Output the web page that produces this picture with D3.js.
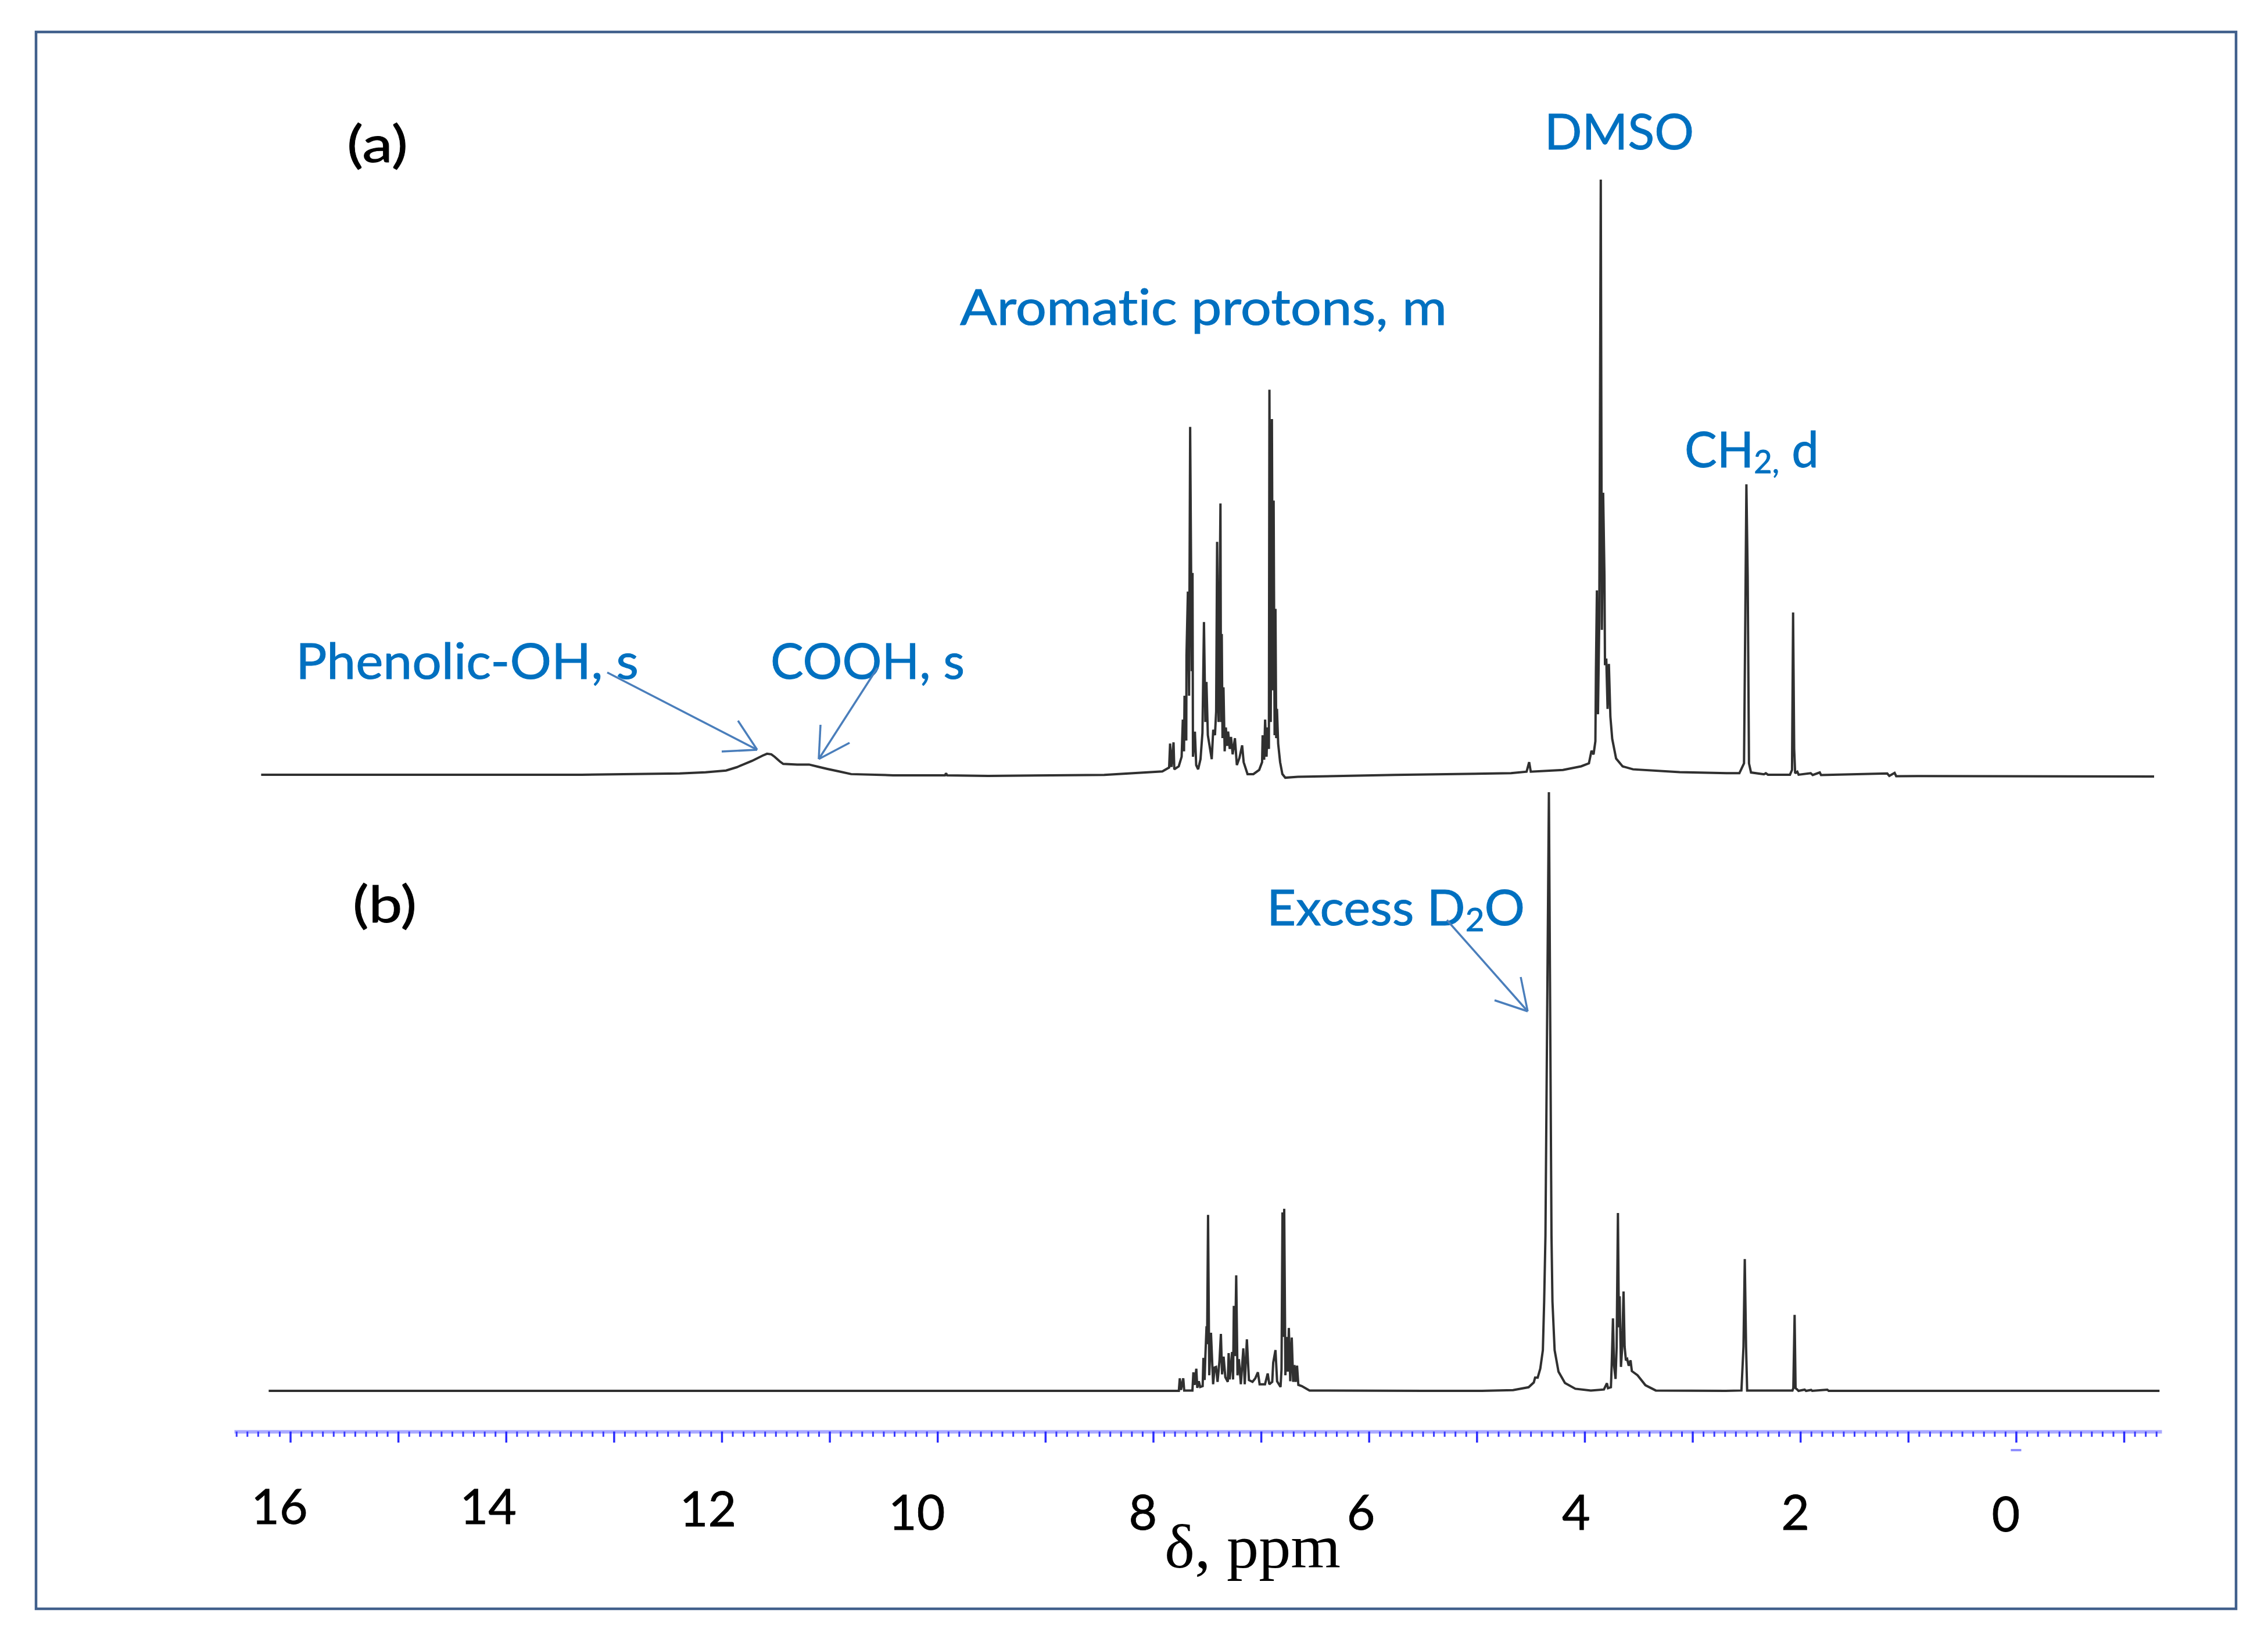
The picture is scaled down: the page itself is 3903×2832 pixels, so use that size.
<!DOCTYPE html>
<html>
<head>
<meta charset="utf-8">
<script src="https://cdn.jsdelivr.net/npm/d3@7"></script>
<style>
body { margin: 0; background: #fff; }
text { font-variant-ligatures: none; }
</style>
</head>
<body>
<svg></svg>
<script>
// spectrum (a): DMSO solution. intensity 100 = tallest peak
var ppmA = [16.27,13.30,12.39,12.15,11.96,11.86,11.72,11.62,11.58,11.54,11.51,11.46,11.43,11.30,11.19,11.10,11.02,10.90,10.80,10.41,9.93,9.92,9.91,9.53,
  8.454,7.915,7.852,7.843,7.830,7.811,7.804,7.763,7.736,7.725,7.714,7.709,7.693,7.691,7.678,7.667,7.657,7.642,7.635,7.631,7.613,7.601,7.583,7.561,7.543,7.529,7.516,7.506,7.493,7.457,7.443,7.427,7.416,7.407,7.394,7.376,7.371,7.364,7.357,7.348,7.337,7.326,7.315,7.305,7.290,7.278,7.263,7.242,7.224,7.200,7.175,7.161,7.125,7.071,7.017,6.990,6.985,6.971,6.962,6.949,6.940,6.927,6.922,6.910,6.899,6.890,6.883,6.874,6.866,6.859,6.852,6.841,6.823,6.802,6.775,6.658,5.760,
  4.682,4.538,4.514,4.499,4.201,4.032,3.960,3.936,3.917,3.900,3.895,3.886,3.876,3.864,3.850,3.840,3.828,3.816,3.811,3.799,3.787,3.775,3.761,3.744,3.708,3.648,3.551,3.118,2.685,2.565,2.522,2.510,2.500,2.488,2.476,2.457,2.337,2.320,2.300,2.096,2.077,2.067,2.057,2.048,2.028,2.016,1.904,1.885,1.820,1.808,1.194,1.175,1.126,1.111,0.910,-1.28];
var intensityA = [0.3,0.3,0.5,0.7,1.0,1.55,2.6,3.5,3.8,3.7,3.3,2.5,2.1,2.0,2.0,1.6,1.26,0.8,0.4,0.2,0.2,0.55,0.2,0.1,
  0.26,0.84,1.5,5.5,1.6,5.7,1.2,1.7,3.3,9.5,4.2,13.5,6,20.2,30.9,13.5,58.4,17.6,34,3.3,7.5,1.9,1.2,2.9,7.3,25.8,9.1,15.8,6.9,2.9,7.8,6.9,10.9,39.2,9.1,45.6,9.1,23.8,6.4,14.9,4.2,8.2,5.1,7.5,4.6,6.6,3.7,6.4,1.9,3.1,5.2,2.4,0.4,0.4,1.1,2.4,6.9,2.8,9.5,3.3,8.2,4.6,64.6,9.1,59.7,14.4,46.1,6.9,28,6.4,11.3,5.5,2.4,0.4,-0.2,-0.05,0.26,
  0.55,0.8,2.4,0.8,1.1,1.7,2.2,4.3,3.7,5.9,17.5,31.1,10.4,26,99.7,24.5,47.4,33.5,18.6,19.7,11.3,18.8,10,6.3,3,1.7,1.2,0.74,0.55,0.55,2.2,26.8,48.8,33.5,2.2,0.67,0.37,0.55,0.3,0.3,1.1,27.4,4.6,0.55,0.8,0.3,0.55,0.25,0.67,0.25,0.5,0.1,0.6,0.05,0.07,0];

// spectrum (b): after D2O exchange
var ppmB = [16.20,8.184,7.762,7.753,7.742,7.721,7.712,7.636,7.627,7.616,7.600,7.591,7.577,7.564,7.541,7.534,7.523,7.516,7.505,7.500,7.491,7.480,7.464,7.444,7.430,7.417,7.403,7.385,7.372,7.361,7.347,7.331,7.308,7.300,7.290,7.268,7.259,7.252,7.241,7.230,7.218,7.205,7.187,7.164,7.151,7.131,7.112,7.079,7.053,7.029,7.013,6.963,6.938,6.923,6.896,6.887,6.866,6.851,6.819,6.810,6.801,6.792,6.785,6.774,6.762,6.751,6.742,6.729,6.715,6.702,6.690,6.679,6.666,6.654,6.622,6.550,5.490,
  4.952,4.663,4.519,4.471,4.459,4.435,4.411,4.387,4.375,4.363,4.331,4.307,4.298,4.278,4.242,4.182,4.086,3.942,3.821,3.802,3.793,3.783,3.756,3.749,3.737,3.727,3.713,3.703,3.691,3.682,3.675,3.663,3.651,3.639,3.629,3.617,3.605,3.591,3.574,3.562,3.509,3.436,3.340,2.691,2.546,2.527,2.515,2.503,2.493,2.073,2.065,2.053,2.044,2.029,2.017,1.960,1.947,1.900,1.890,1.750,1.737,1.180,-1.33];
var intensityB = [0,0,0,2.1,0.16,2.1,0.06,0.06,3.1,1,3.7,0.5,1.6,0.65,0.8,5.5,1.8,5.8,10.8,7.8,29.4,2.6,9.7,1.1,3.9,4,1.5,5,9.5,2.75,5.7,2.3,1.5,6.3,1.9,6.5,1.9,14.2,5.8,19.3,2.6,5.3,1.1,7.1,1.1,8.6,1.8,1.5,2.1,3.1,1.1,1.1,2.9,1.1,1.5,4.7,6.8,1.6,0.65,3.6,29.8,9,30.4,2.6,9,3.2,10.5,1.6,8.9,1.5,4.3,1.5,4.2,1,0.8,0.06,0,
  0,0.13,0.6,1.4,2.2,2.2,3.7,6.8,14.9,25.9,100,25.9,14.9,6.8,3.2,1.3,0.35,0.06,0.23,0.94,1.26,0.45,0.6,4.2,12.1,4.2,2,7.4,29.7,10.6,15.8,4,7.4,16.6,7.4,5.1,5.3,4.2,5.1,3.3,2.6,0.94,0.06,0,0.06,7.4,22,7.4,0.06,0.06,0.45,12.7,0.45,0.23,0,0.2,0,0.15,0,0.2,0,0,0];

var tickLabels = ["16","14","12","10","8","6","4","2","0"];
var tickLabelValues = [16,14,12,10,8,6,4,2,0];

var svgWidth = 3903, svgHeight = 2832;
var noteColor = "#0070c0", arrowColor = "#4a7ebb", frameColor = "#41608c";
var sans = "Lato, 'Open Sans', sans-serif";

var svg = d3.select("svg")
  .attr("width", svgWidth)
  .attr("height", svgHeight)
  .style("display", "block");

// frame around the figure
svg.append("rect")
  .attr("x", 62).attr("y", 55)
  .attr("width", 3786).attr("height", 2713)
  .attr("fill", "none")
  .attr("stroke", frameColor)
  .attr("stroke-width", 4.5);

var x = d3.scaleLinear().domain([16.52, -1.35]).range([403, 3720]);
// both traces share one height scale, only the baseline differs
var yA = d3.scaleLinear().domain([0, 100]).range([1336, 306]);
var yB = d3.scaleLinear().domain([0, 100]).range([2393, 1363]);

function drawTrace(ppm, intensity, y) {
  var line = d3.line()
    .x(function (d) { return x(d); })
    .y(function (d, i) { return y(intensity[i]); });
  svg.append("path")
    .attr("d", line(ppm))
    .attr("fill", "none")
    .attr("stroke", "#303030")
    .attr("stroke-width", 4)
    .attr("stroke-linejoin", "miter")
    .attr("stroke-miterlimit", 2);
}
drawTrace(ppmA, intensityA, yA);
drawTrace(ppmB, intensityB, yB);

// ruler: pale band, small ticks every 0.1 ppm, long ones every ppm
var minorValues = d3.range(-13, 166).filter(function (d) { return d % 10 !== 0; }).map(function (d) { return d / 10; });
var minorAxis = d3.axisBottom(x).tickValues(minorValues).tickSize(9).tickSizeOuter(0).tickFormat("");
var minorG = svg.append("g").attr("transform", "translate(0,2463)").call(minorAxis);
minorG.select(".domain").attr("stroke", "#a9a9ff").attr("stroke-width", 6);
minorG.selectAll(".tick line").attr("stroke", "#3a3aff").attr("stroke-width", 3);

var majorAxis = d3.axisBottom(x)
  .tickValues(d3.range(-1, 17))
  .tickSize(19)
  .tickSizeOuter(0)
  .tickFormat(function (d) {
    var i = tickLabelValues.indexOf(d);
    return i < 0 ? "" : tickLabels[i];
  });
var majorG = svg.append("g").attr("transform", "translate(0,2463)").call(majorAxis);
majorG.select(".domain").attr("stroke", "none");
majorG.selectAll(".tick line").attr("stroke", "#2a2aff").attr("stroke-width", 3.5);

// the numbers were placed by hand in the original, a little left of their ticks
var labelShift = { 16: -19, 14: -31, 12: -24, 10: -36, 8: -18, 6: -14, 4: -15, 2: -9, 0: -18 };
var labelBase = { 16: 159, 14: 159, 12: 163, 10: 169, 8: 169, 6: 169, 4: 169, 2: 169, 0: 172 };
majorG.selectAll(".tick text")
  .attr("x", function (d) { return labelShift[d] || 0; })
  .attr("y", function (d) { return labelBase[d] || 0; })
  .attr("dy", 0)
  .attr("fill", "#000")
  .attr("font-family", sans)
  .attr("font-size", 84)
  .attr("stroke", "#000")
  .attr("stroke-width", 0.8);

svg.append("rect")
  .attr("x", x(0) - 9).attr("y", 2493)
  .attr("width", 18).attr("height", 4)
  .attr("fill", "#8f8fff");

// annotations: parts with sub set are drawn as subscripts
function note(parts, px, py, width, color, size) {
  var t = svg.append("text")
    .attr("x", px).attr("y", py)
    .attr("fill", color)
    .attr("stroke", color)
    .attr("stroke-width", 0.9)
    .attr("font-family", sans)
    .attr("font-size", size)
    .attr("textLength", width)
    .attr("lengthAdjust", "spacingAndGlyphs");
  parts.forEach(function (p) {
    var s = t.append("tspan").text(p.text);
    if (p.sub) s.attr("font-size", size * 0.65).attr("baseline-shift", "-18%");
  });
}
note([{ text: "(a)" }], 597, 279, 105, "#000", 88);
note([{ text: "(b)" }], 607, 1587, 110, "#000", 88);
note([{ text: "DMSO" }], 2658, 257, 257, noteColor, 86);
note([{ text: "Aromatic protons, m" }], 1652, 559, 838, noteColor, 86);
note([{ text: "CH" }, { text: "2,", sub: true }, { text: " d" }], 2899, 804, 231, noteColor, 86);
note([{ text: "Phenolic-OH, s" }], 509, 1168, 590, noteColor, 86);
note([{ text: "COOH, s" }], 1326, 1168, 334, noteColor, 86);
note([{ text: "Excess D" }, { text: "2", sub: true }, { text: "O" }], 2180, 1592, 444, noteColor, 86);

// axis title
svg.append("text")
  .attr("x", 2004).attr("y", 2697)
  .attr("font-family", "'Liberation Serif', serif")
  .attr("font-size", 106)
  .attr("textLength", 303)
  .attr("lengthAdjust", "spacingAndGlyphs")
  .text("\u03b4, ppm");

// arrows: shaft plus two open barbs
var arrows = [
  { shaft: [[1045, 1157], [1303, 1290]], barbs: [[1270, 1240], [1242, 1293]] },
  { shaft: [[1510, 1149], [1409, 1306]], barbs: [[1412, 1247], [1462, 1278]] },
  { shaft: [[2490, 1583], [2629, 1740]], barbs: [[2617, 1681], [2572, 1721]] }
];
arrows.forEach(function (a) {
  var tip = a.shaft[1];
  var segs = [a.shaft, [a.barbs[0], tip], [a.barbs[1], tip]];
  segs.forEach(function (s) {
    svg.append("line")
      .attr("x1", s[0][0]).attr("y1", s[0][1])
      .attr("x2", s[1][0]).attr("y2", s[1][1])
      .attr("stroke", arrowColor)
      .attr("stroke-width", 3.5);
  });
});
</script>
</body>
</html>
